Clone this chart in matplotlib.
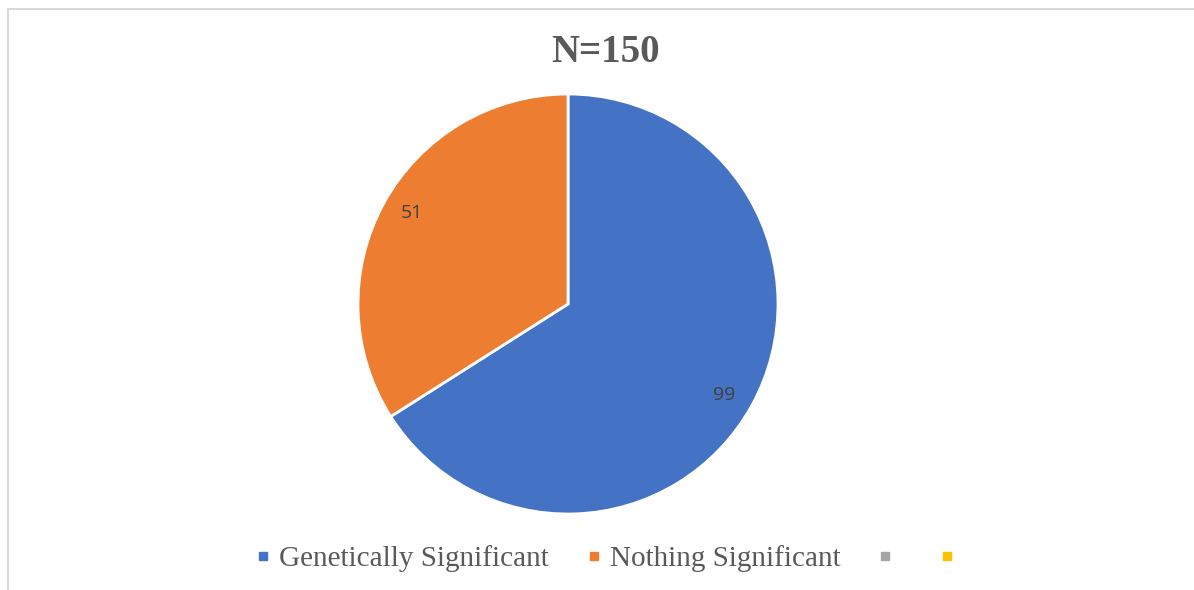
import matplotlib
matplotlib.use("Agg")
import matplotlib.pyplot as plt
from matplotlib.lines import Line2D
from matplotlib.patches import Rectangle
import numpy as np

# Data
categories = ["Genetically Significant", "Nothing Significant", "", ""]
values = [99, 51, 0, 0]
colors = ["#4472C4", "#ED7D31", "#A5A5A5", "#FFC000"]
title = "N=150"

W, H = 1194, 590
fig = plt.figure(figsize=(W / 100, H / 100), dpi=100)
fig.patch.set_facecolor("white")

# Chart frame (light gray border)
fig.patches.append(Rectangle((8 / W, -0.1), 1.2, 1 - 9 / H + 0.1,
                             transform=fig.transFigure, fill=False,
                             edgecolor="#D9D9D9", linewidth=1.5))

cx, cy, r = 568, 304, 210
ax = fig.add_axes([(cx - r) / W, (H - cy - r) / H, 2 * r / W, 2 * r / H])

nz = [(v, c) for v, c in zip(values, colors) if v > 0]
wedges, _ = ax.pie([v for v, _ in nz], colors=[c for _, c in nz],
                   startangle=90, counterclock=False,
                   wedgeprops=dict(edgecolor="white", linewidth=2))
ax.set_xlim(-1, 1)
ax.set_ylim(-1, 1)
ax.set_aspect("equal")
ax.axis("off")

# Value labels inside each slice
for w, (v, _) in zip(wedges, nz):
    ang = np.deg2rad((w.theta1 + w.theta2) / 2 - 1.5)
    ax.text(0.86 * np.cos(ang), 0.86 * np.sin(ang), f"{v}",
            ha="center", va="center", fontsize=14, color="#404040",
            family="Open Sans")

fig.text(0.507, 1 - 52 / H, title, ha="center", va="center",
         fontsize=28, fontweight="bold", color="#595959",
         family="Liberation Serif")

handles = [Line2D([], [], marker="s", linestyle="none", markersize=6,
                  markerfacecolor=c, markeredgecolor=c) for c in colors]
fig.legend(handles, categories, loc="center", bbox_to_anchor=(0.510, 1 - 559 / H),
           ncol=4, frameon=False, handlelength=0.5, handletextpad=0.3,
           columnspacing=1.3,
           prop=dict(family="Liberation Serif", size=21),
           labelcolor="#595959")

fig.savefig("out.png", dpi=100)
